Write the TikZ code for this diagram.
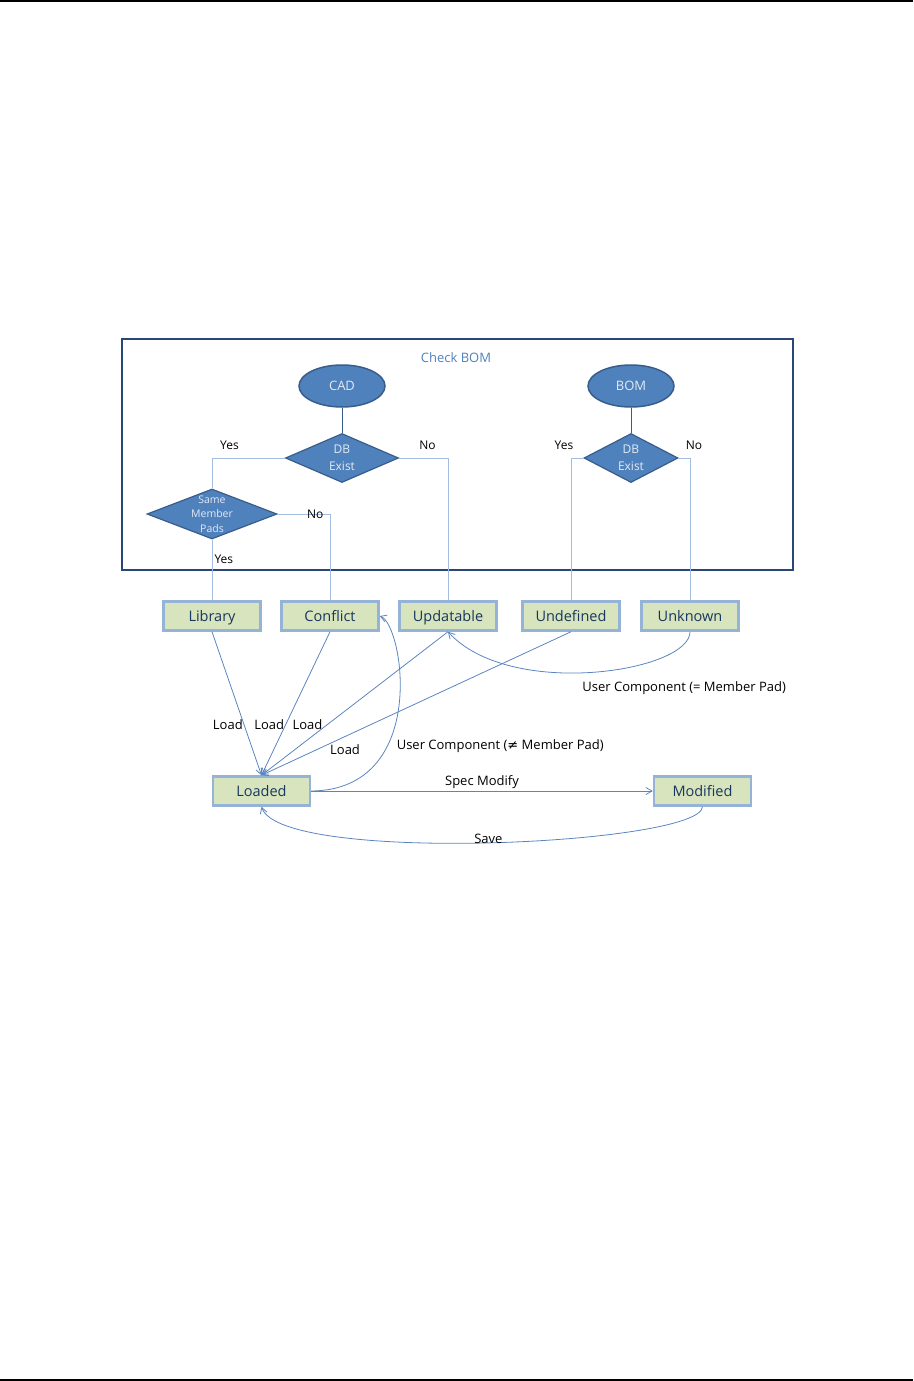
\documentclass[tikz,border=0pt]{standalone}
\usepackage{fontspec}
\setmainfont{Open Sans}
\newfontfamily\symfont{DejaVu Sans}
\usetikzlibrary{arrows.meta, shapes.geometric, positioning}
\definecolor{shapeblue}{HTML}{4F81BD}
\definecolor{shapeedge}{HTML}{385D8A}
\definecolor{shapetext}{HTML}{E3EAF4}
\definecolor{boxgreen}{HTML}{D7E4BD}
\definecolor{boxedge}{HTML}{95B3D7}
\definecolor{boxtext}{HTML}{17375E}
\definecolor{framenavy}{HTML}{284776}
\definecolor{linkblue}{HTML}{5B85C0}
\definecolor{paleblue}{HTML}{A3BDE0}

\begin{document}
\begin{tikzpicture}[x=1pt,y=-1pt,on grid,node distance=118pt,>={Straight Barb[angle=60:7pt]},
    source/.style={ellipse,draw=shapeedge,line width=1.5pt,fill=shapeblue,text=shapetext,
      minimum width=86pt,minimum height=42pt,font=\fontsize{13}{15}\selectfont},
    decision/.style={diamond,draw=shapeedge,line width=1.2pt,fill=shapeblue,text=shapetext,
      inner sep=-4pt,align=center,font=\fontsize{12}{17}\selectfont},
    status/.style={draw=boxedge,line width=2.5pt,fill=boxgreen,text=boxtext,
      minimum width=97pt,minimum height=29pt,text height=11pt,text depth=1pt,
      font=\fontsize{14.5}{16}\selectfont},
    lbl/.style={font=\fontsize{13}{15}\selectfont,inner sep=1pt},
    yesno/.style={font=\fontsize{12}{14}\selectfont,inner sep=1pt},
    branch/.style={draw=paleblue,line width=1pt},
    flow/.style={->,draw=linkblue,line width=0.8pt}]
  \useasboundingbox (0,0) rectangle (913,1381);
  \draw[line width=2pt] (0,1) -- (913,1);
  \draw[line width=2pt] (0,1380) -- (913,1380);

  % check BOM frame
  \draw[framenavy,line width=2.2pt] (122,339) rectangle (793,570);
  \node[lbl,text=shapeblue] (title) at (456,358) {Check BOM};

  \node[decision,minimum width=113pt,minimum height=49pt,aspect=2.3] (dbcad) at (342,458) {DB\\Exist};
  \node[source,above=72pt of dbcad] (cad) {CAD};
  \node[decision,minimum width=94pt,minimum height=49pt,aspect=2.3] (dbbom) at (631,458) {DB\\Exist};
  \node[source,above=72pt of dbbom] (bom) {BOM};
  \node[decision,minimum width=130pt,minimum height=50pt,aspect=2.5,
    font=\fontsize{10.5}{14.5}\selectfont] (samepads) at (212,514) {Same\\Member\\Pads};

  % states
  \node[status] (library) at (212,616) {Library};
  \node[status,right=of library] (conflict) {Conflict};
  \node[status,right=of conflict] (updatable) {Updatable};
  \node[status,right=123pt of updatable] (undefined) {Undefined};
  \node[status,right=119pt of undefined] (unknown) {Unknown};
  \node[status] (loaded) at (261.5,791) {Loaded};
  \node[status,right=441pt of loaded] (modified) {Modified};

  \draw[draw=shapeedge,line width=1pt] (cad) -- (dbcad);
  \draw[draw=shapeedge,line width=1pt] (bom) -- (dbbom);
  \draw[branch] (dbcad.west) -| node[yesno,pos=0.38,above=7pt] {Yes} (samepads.north);
  \draw[branch] (dbcad.east) -| node[yesno,pos=0.29,above=7pt] {No} (updatable.north);
  \draw[branch] (samepads.east) -| node[yesno,pos=0.36] {No} (conflict.north);
  \draw[branch] (samepads.south) -- node[yesno,pos=0.33,right=1pt] {Yes} (library.north);
  \draw[branch] (dbbom.west) -| node[yesno,pos=0.5,above=7pt,xshift=-7pt] {Yes} (undefined.north);
  \draw[branch] (dbbom.east) -| node[yesno,pos=0.5,above=7pt,xshift=4pt] {No} (unknown.north);

  % transitions
  \draw[flow] (library.south) -- node[lbl,pos=0.65,left=0pt] {Load} (loaded.north);
  \draw[flow] (conflict.south) -- node[lbl,pos=0.65,left=0pt] {Load} (loaded.north);
  \draw[flow] (updatable.south) -- node[lbl,pos=0.65,left=3pt] {Load} (loaded.north);
  \draw[flow] (undefined.south) -- node[lbl,pos=0.73,below=7pt] {Load} (loaded.north);
  \draw[flow] (unknown.south) .. controls +(0,40) and +(62,68) ..
    node[lbl,pos=0.535,anchor=north west,yshift=-7pt] {User Component (= Member Pad)} (updatable.south);
  \draw[flow] (loaded.east) .. controls +(118,-1) and +(24,9) ..
    node[lbl,pos=0.33,anchor=west,xshift=9pt,yshift=2pt] {User Component ({\symfont ≠} Member Pad)} (conflict.east);
  \draw[flow] (loaded) -- node[lbl,above=1pt] {Spec Modify} (modified);
  \draw[flow] (modified.south) .. controls +(-2,38) and +(19,58) ..
    node[lbl,above=-2pt] {Save} (loaded.south);
\end{tikzpicture}
\end{document}
